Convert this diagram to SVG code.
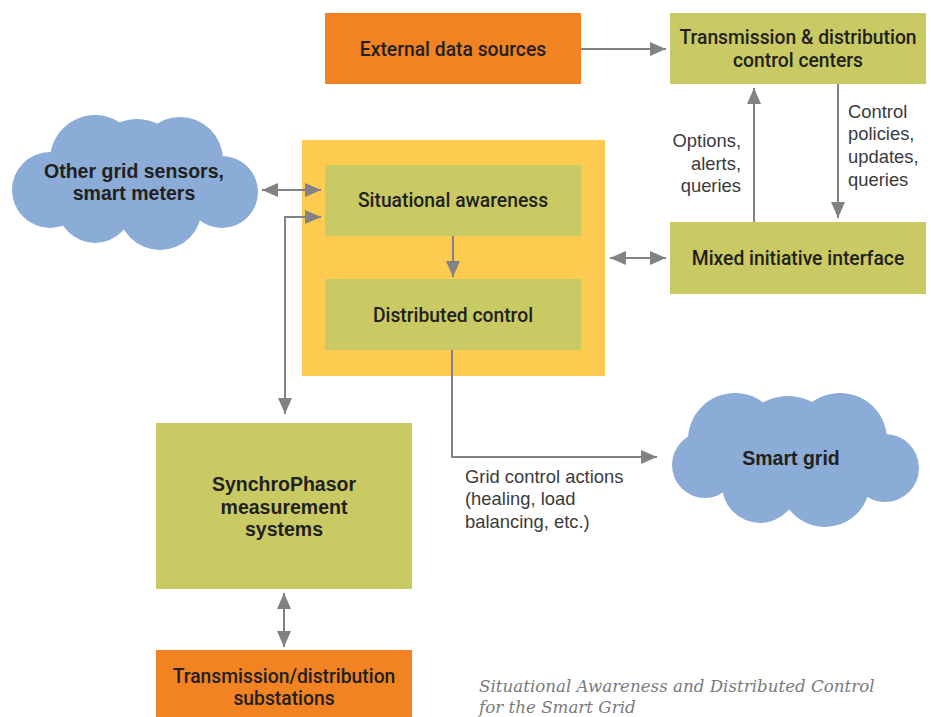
<svg xmlns="http://www.w3.org/2000/svg" width="931" height="717" viewBox="0 0 931 717">
<defs>
<style>
.orange{fill:#F28322}
.olive{fill:#C9CA63}
.yellow{fill:#FDCB4F}
.cloud{fill:#8AACD6}
.bx{font-family:Roboto,"Liberation Sans",sans-serif;font-weight:500;font-size:19.3px;fill:#231F20;text-anchor:middle}
.cl{font-family:"Liberation Sans",Arial,sans-serif;font-weight:bold;font-size:19.5px;fill:#231F20;text-anchor:middle}
.lb{font-family:"Liberation Sans",Arial,sans-serif;font-size:18.4px;fill:#3A3A3C}
.cap{font-family:"DejaVu Serif","Liberation Serif",serif;font-style:italic;font-size:16.7px;fill:#7A7A7C}
.ln{fill:none;stroke:#808285;stroke-width:2}
</style>
<marker id="ah" markerUnits="userSpaceOnUse" markerWidth="18" markerHeight="14" refX="16" refY="7" orient="auto-start-reverse">
<path d="M0,0 L16,7 L0,14 Z" fill="#808285"/>
</marker>
</defs>

<g id="external-data-sources">
<rect class="orange" x="325" y="13" width="256" height="71"/>
<text class="bx" x="453" y="56">External data sources</text>
</g>

<g id="td-control-centers">
<rect class="olive" x="670" y="13" width="256" height="71"/>
<text class="bx" x="798" y="44">Transmission &amp; distribution</text>
<text class="bx" x="798" y="67">control centers</text>
</g>

<g id="yellow-container">
<rect class="yellow" x="302" y="140" width="303" height="236"/>
</g>

<g id="situational-awareness">
<rect class="olive" x="325" y="165" width="256" height="71"/>
<text class="bx" x="453" y="207">Situational awareness</text>
</g>

<g id="distributed-control">
<rect class="olive" x="325" y="279" width="256" height="71"/>
<text class="bx" x="453" y="322">Distributed control</text>
</g>

<g id="mixed-initiative-interface">
<rect class="olive" x="670" y="222" width="256" height="72"/>
<text class="bx" x="798" y="265">Mixed initiative interface</text>
</g>

<g id="synchrophasor">
<rect class="olive" x="156" y="423" width="256" height="166"/>
<text class="cl" x="284" y="491">SynchroPhasor</text>
<text class="cl" x="284" y="514">measurement</text>
<text class="cl" x="284" y="536">systems</text>
</g>

<g id="substations">
<rect class="orange" x="156" y="650" width="256" height="67"/>
<text class="bx" x="284" y="683">Transmission/distribution</text>
<text class="bx" x="284" y="705">substations</text>
</g>

<g id="cloud-sensors">
<g class="cloud">
<circle cx="95" cy="160" r="45"/>
<circle cx="137" cy="165" r="46"/>
<circle cx="180" cy="160" r="43"/>
<circle cx="222" cy="192" r="36"/>
<circle cx="50" cy="190" r="38"/>
<circle cx="95" cy="205" r="38"/>
<circle cx="160" cy="208" r="42"/>
<ellipse cx="135" cy="185" rx="90" ry="45"/>
</g>
<text class="cl" x="134" y="178">Other grid sensors,</text>
<text class="cl" x="134" y="200">smart meters</text>
</g>

<g id="cloud-smart-grid">
<g class="cloud">
<circle cx="735" cy="440" r="47"/>
<circle cx="788" cy="446" r="50"/>
<circle cx="840" cy="440" r="47"/>
<circle cx="885" cy="468" r="34"/>
<circle cx="705" cy="465" r="33"/>
<circle cx="760" cy="485" r="38"/>
<circle cx="825" cy="482" r="45"/>
<ellipse cx="795" cy="460" rx="95" ry="45"/>
</g>
<text class="cl" x="791" y="465">Smart grid</text>
</g>

<g id="connectors">
<line class="ln" x1="581" y1="49" x2="666" y2="49" marker-end="url(#ah)"/>
<line class="ln" x1="754" y1="222" x2="754" y2="88" marker-end="url(#ah)"/>
<line class="ln" x1="838" y1="84" x2="838" y2="218" marker-end="url(#ah)"/>
<line class="ln" x1="610" y1="258" x2="666" y2="258" marker-start="url(#ah)" marker-end="url(#ah)"/>
<line class="ln" x1="262" y1="190" x2="321" y2="190" marker-start="url(#ah)" marker-end="url(#ah)"/>
<polyline class="ln" points="285,414 285,217 321,217" marker-start="url(#ah)" marker-end="url(#ah)"/>
<line class="ln" x1="453" y1="236" x2="453" y2="277" marker-end="url(#ah)"/>
<polyline class="ln" points="452,350 452,457 657,457" marker-end="url(#ah)"/>
<line class="ln" x1="284" y1="593" x2="284" y2="647" marker-start="url(#ah)" marker-end="url(#ah)"/>
</g>

<g id="labels">
<text class="lb" text-anchor="end" x="741" y="147">Options,</text>
<text class="lb" text-anchor="end" x="741" y="170">alerts,</text>
<text class="lb" text-anchor="end" x="741" y="192">queries</text>
<text class="lb" x="848" y="118">Control</text>
<text class="lb" x="848" y="140">policies,</text>
<text class="lb" x="848" y="163">updates,</text>
<text class="lb" x="848" y="186">queries</text>
<text class="lb" x="465" y="483">Grid control actions</text>
<text class="lb" x="465" y="505">(healing, load</text>
<text class="lb" x="465" y="528">balancing, etc.)</text>
</g>

<g id="caption">
<text class="cap" x="479" y="692">Situational Awareness and Distributed Control</text>
<text class="cap" x="479" y="713">for the Smart Grid</text>
</g>
</svg>
